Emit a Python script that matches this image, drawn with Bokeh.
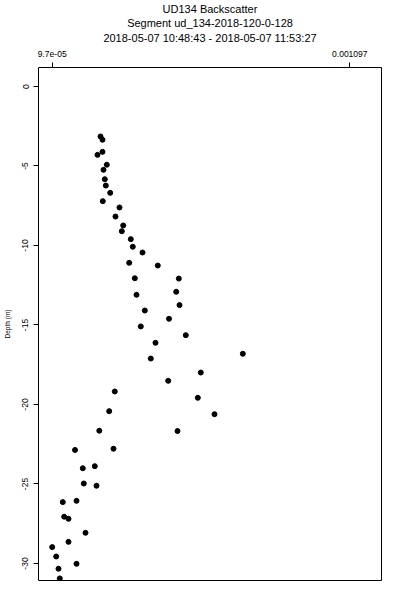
from bokeh.plotting import figure
from bokeh.models import Range1d, FixedTicker, PrintfTickFormatter, LinearAxis, ColumnDataSource, Title
from bokeh.embed import file_html
from bokeh.resources import INLINE

# ---- data (backscatter vs depth) ----
backscatter = [
    2.593e-4, 2.660e-4, 2.660e-4, 2.492e-4, 2.805e-4, 2.694e-4, 2.737e-4, 2.771e-4,
    2.919e-4, 2.670e-4, 3.231e-4, 3.097e-4, 3.356e-4, 3.309e-4, 3.611e-4, 3.678e-4,
    4.004e-4, 3.557e-4, 4.518e-4, 5.224e-4, 3.746e-4, 5.137e-4, 3.803e-4, 5.248e-4,
    4.082e-4, 4.895e-4, 3.947e-4, 5.459e-4, 4.441e-4, 7.375e-4, 4.283e-4, 5.963e-4,
    4.868e-4, 3.073e-4, 5.863e-4, 2.885e-4, 6.424e-4, 2.553e-4, 5.180e-4, 1.737e-4,
    3.030e-4, 1.998e-4, 2.401e-4, 2.032e-4, 2.459e-4, 1.326e-4, 1.787e-4, 1.373e-4,
    1.518e-4, 2.089e-4, 1.518e-4, 0.970e-4, 1.104e-4, 1.787e-4, 1.182e-4, 1.225e-4,
]
depth = [
    -3.14, -3.35, -4.11, -4.30, -4.92, -5.24, -5.83, -6.23,
    -6.69, -7.21, -7.61, -8.18, -8.74, -9.10, -9.60, -10.08,
    -10.44, -11.09, -11.26, -12.08, -12.06, -12.91, -13.10, -13.75,
    -14.09, -14.61, -15.09, -15.64, -16.12, -16.81, -17.11, -17.99,
    -18.51, -19.18, -19.58, -20.42, -20.61, -21.65, -21.67, -22.86,
    -22.78, -24.01, -23.88, -24.97, -25.11, -26.14, -26.06, -27.06,
    -27.19, -28.07, -28.64, -28.97, -29.56, -30.02, -30.33, -30.94,
]
x_ticks = [9.7e-05, 0.001097]
x_tick_labels = ["9.7e-05", "0.001097"]
y_ticks = [0, -5, -10, -15, -20, -25, -30]
title_lines = [
    "UD134 Backscatter",
    "Segment ud_134-2018-120-0-128",
    "2018-05-07 10:48:43 - 2018-05-07 11:53:27",
]

FONT = "Liberation Sans"
FW, FH = 343, 513

p = figure(
    frame_width=FW, frame_height=FH,
    x_range=Range1d(5.097e-5, 1.2035e-3),
    y_range=Range1d(-31.07, 1.195),
    output_backend="svg", toolbar_location=None,
    x_axis_location=None, y_axis_location=None,
    min_border_left=38, min_border_right=11, min_border_top=0, min_border_bottom=12,
)
p.title.visible = False
p.xgrid.visible = False
p.ygrid.visible = False
p.outline_line_color = "black"
p.outline_line_width = 1
p.outline_line_alpha = 1
p.background_fill_color = "white"
p.border_fill_color = "white"

# top axis; the last title line sits directly above its tick labels
xa = LinearAxis(ticker=FixedTicker(ticks=x_ticks),
                major_label_overrides={t: l for t, l in zip(x_ticks, x_tick_labels)},
                axis_label=title_lines[2])
xa.axis_line_color = None
xa.major_tick_out = 5
xa.major_tick_in = 0
xa.minor_tick_out = 0
xa.minor_tick_in = 0
xa.major_tick_line_color = "black"
xa.major_label_standoff = 6
xa.major_label_text_font = FONT
xa.major_label_text_font_size = "8.5px"
xa.major_label_text_color = "black"
xa.axis_label_text_font = FONT
xa.axis_label_text_font_size = "11px"
xa.axis_label_text_font_style = "normal"
xa.axis_label_text_color = "black"
xa.axis_label_standoff = 4
p.add_layout(xa, "above")

# first two title lines, nearest-the-axis first
for txt in reversed(title_lines[:2]):
    t = Title(text=txt, align="center", text_font=FONT, text_font_size="11px",
              text_font_style="normal", text_color="black", standoff=0, offset=0)
    p.add_layout(t, "above")

# left axis
ya = LinearAxis(ticker=FixedTicker(ticks=y_ticks),
                formatter=PrintfTickFormatter(format="%d"),
                axis_label="Depth (m)")
ya.axis_line_color = None
ya.major_tick_out = 5
ya.major_tick_in = 0
ya.minor_tick_out = 0
ya.minor_tick_in = 0
ya.major_tick_line_color = "black"
ya.major_label_orientation = "vertical"
ya.major_label_standoff = 5
ya.major_label_text_font = FONT
ya.major_label_text_font_size = "8.5px"
ya.major_label_text_color = "black"
ya.axis_label_text_font = FONT
ya.axis_label_text_font_size = "6.5px"
ya.axis_label_text_font_style = "normal"
ya.axis_label_text_color = "black"
ya.axis_label_standoff = 9
p.add_layout(ya, "left")

src = ColumnDataSource(dict(x=backscatter, y=depth))
p.scatter("x", "y", source=src, size=5, marker="circle",
          fill_color="black", line_color="black")

open("out.html", "w").write(file_html(p, INLINE))
